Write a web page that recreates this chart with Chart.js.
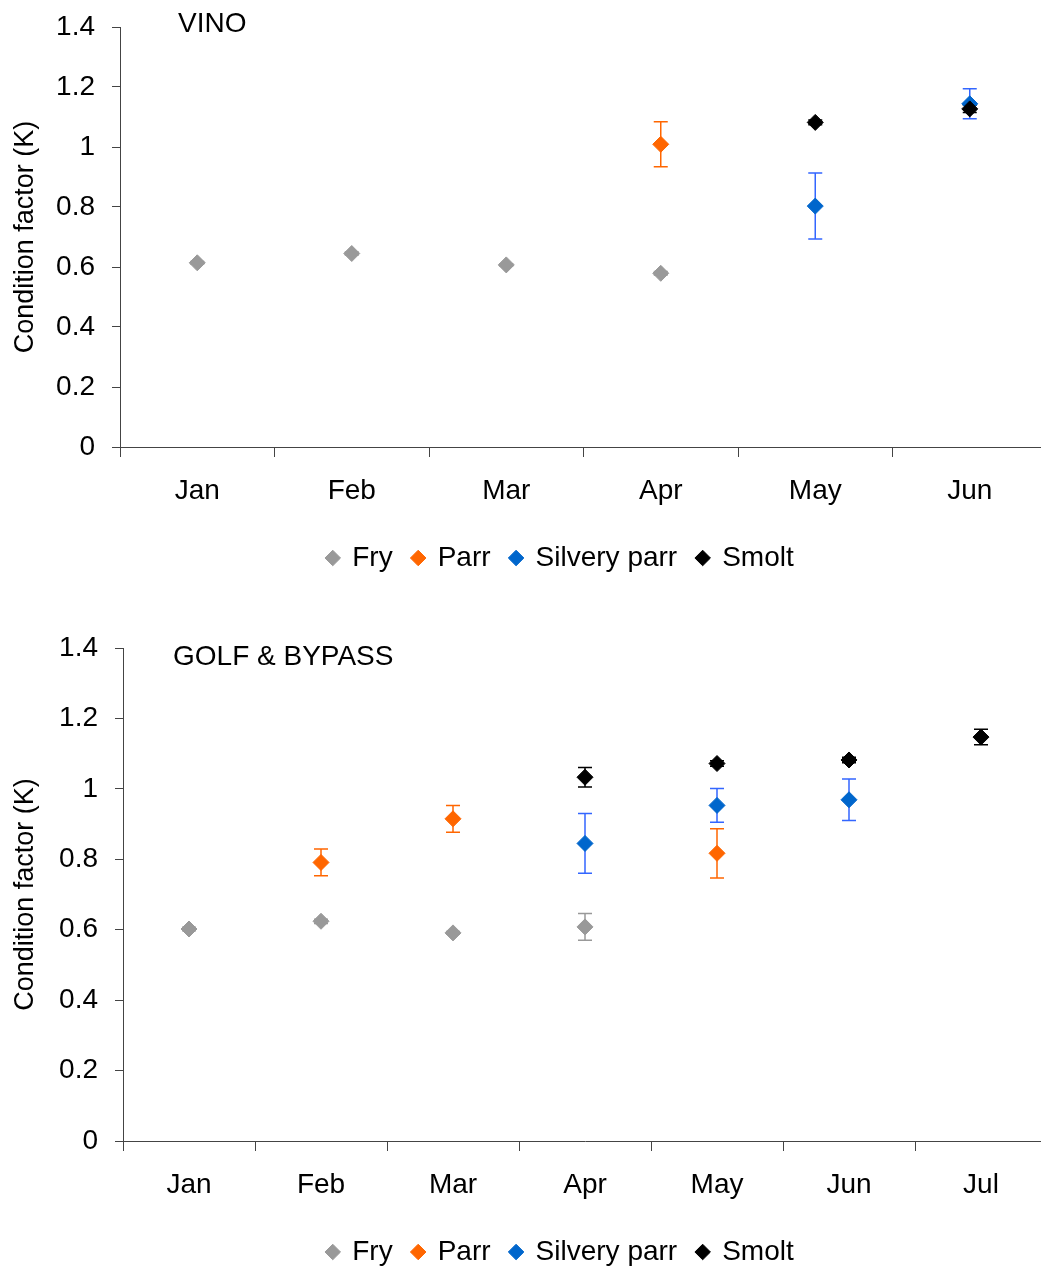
<!DOCTYPE html>
<html><head><meta charset="utf-8">
<script src="https://cdn.jsdelivr.net/npm/chart.js@4.4.1/dist/chart.umd.min.js"></script>
<style>
html,body{margin:0;padding:0;background:#fff;overflow:hidden;width:1041px;height:1270px;position:relative;}
.box{position:absolute;left:0;}
</style></head><body>
<div class="box" style="top:-7px"><canvas id="c1" width="1060" height="589"></canvas></div>
<div class="box" style="top:584px"><canvas id="c2" width="1060" height="692"></canvas></div>
<script>
// ---------- data ----------
const seriesNames = ['Fry', 'Parr', 'Silvery parr', 'Smolt'];
const yTickValues = [0, 0.2, 0.4, 0.6, 0.8, 1, 1.2, 1.4];
const yTickLabels = ['0', '0.2', '0.4', '0.6', '0.8', '1', '1.2', '1.4'];
const yTitle = 'Condition factor (K)';

// VINO
const vinoTitle = 'VINO';
const vinoMonths = ['Jan', 'Feb', 'Mar', 'Apr', 'May', 'Jun'];
const vinoFry = [0.614, 0.645, 0.607, 0.579, null, null];
const vinoFryErr = [0.004, 0.005, 0.004, 0.006, null, null];
const vinoParr = [null, null, null, 1.009, null, null];
const vinoParrErr = [null, null, null, 0.075, null, null];
const vinoSilvery = [null, null, null, null, 0.803, 1.144];
const vinoSilveryErr = [null, null, null, null, 0.11, 0.05];
const vinoSmolt = [null, null, null, null, 1.082, 1.127];
const vinoSmoltErr = [null, null, null, null, 0.008, 0.012];

// GOLF & BYPASS
const golfTitle = 'GOLF & BYPASS';
const golfMonths = ['Jan', 'Feb', 'Mar', 'Apr', 'May', 'Jun', 'Jul'];
const golfFry = [0.602, 0.624, 0.591, 0.608, null, null, null];
const golfFryErr = [0.005, 0.006, 0.004, 0.038, null, null, null];
const golfParr = [null, 0.791, 0.915, null, 0.817, null, null];
const golfParrErr = [null, 0.038, 0.038, null, 0.07, null, null];
const golfSilvery = [null, null, null, 0.845, 0.953, 0.969, null];
const golfSilveryErr = [null, null, null, 0.085, 0.048, 0.059, null];
const golfSmolt = [null, null, null, 1.033, 1.072, 1.082, 1.147];
const golfSmoltErr = [null, null, null, 0.028, 0.008, 0.008, 0.022];

// ---------- styles ----------
const FONT = "'Liberation Sans', Arial, sans-serif";
const markerColors = ['#999999', '#FF6600', '#0066CC', '#000000'];
const errorColors = ['#999999', '#FF6600', '#3366FF', '#000000'];
const axisColor = '#444444';

const errorBarPlugin = {
  id: 'errorBars',
  beforeDatasetsDraw(chart) {
    const ctx = chart.ctx;
    const yScale = chart.scales.y;
    chart.data.datasets.forEach((ds, i) => {
      const meta = chart.getDatasetMeta(i);
      if (!ds.errors) return;
      ctx.save();
      ctx.strokeStyle = ds.errorColor;
      ctx.lineWidth = 1.5;
      ds.data.forEach((v, j) => {
        const e = ds.errors[j];
        if (v == null || e == null) return;
        const x = meta.data[j].x;
        const yt = yScale.getPixelForValue(v + e);
        const yb = yScale.getPixelForValue(v - e);
        ctx.beginPath();
        ctx.moveTo(x, yt); ctx.lineTo(x, yb);
        ctx.moveTo(x - 7, yt); ctx.lineTo(x + 7, yt);
        ctx.moveTo(x - 7, yb); ctx.lineTo(x + 7, yb);
        ctx.stroke();
      });
      ctx.restore();
    });
  }
};

const panelLabelPlugin = {
  id: 'panelLabel',
  afterDraw(chart, args, opts) {
    const ctx = chart.ctx;
    const a = chart.chartArea;
    ctx.save();
    ctx.font = '28px ' + FONT;
    ctx.fillStyle = '#000';
    ctx.textBaseline = 'middle';
    ctx.textAlign = 'left';
    ctx.fillText(opts.text, a.left + opts.dx, a.top + opts.dy);
    ctx.restore();
  }
};

const legendShiftPlugin = {
  id: 'legendShift',
  afterLayout(chart, args, opts) {
    const lg = chart.legend;
    if (lg) { lg.left += opts.shift; lg.right += opts.shift; }
  }
};

function makeDatasets(series, errors) {
  return seriesNames.map((name, k) => ({
    label: name,
    data: series[k],
    errors: errors[k],
    errorColor: errorColors[k],
    showLine: false,
    pointStyle: 'rectRot',
    pointRadius: 8,
    pointHoverRadius: 8,
    pointBackgroundColor: markerColors[k],
    pointBorderColor: markerColors[k],
    pointBorderWidth: 1,
    backgroundColor: markerColors[k],
    borderColor: markerColors[k],
    order: 4 - k
  }));
}

function makeChart(id, months, series, errors, title, yAxisWidth, pad, label) {
  return new Chart(document.getElementById(id), {
    type: 'line',
    data: { labels: months, datasets: makeDatasets(series, errors) },
    options: {
      responsive: false,
      animation: false,
      devicePixelRatio: 1,
      layout: { padding: pad, autoPadding: false },
      scales: {
        x: {
          type: 'category',
          offset: true,
          grid: { offset: true, drawOnChartArea: false, drawTicks: true, tickLength: 10, tickColor: axisColor, tickWidth: 1 },
          border: { display: true, color: axisColor, width: 1 },
          ticks: { color: '#000', font: { family: FONT, size: 28 }, padding: 17, maxRotation: 0, autoSkip: false },
          afterFit: s => { s.height = 77; }
        },
        y: {
          position: 'left',
          min: 0, max: 1.4,
          afterBuildTicks: s => { s.ticks = yTickValues.map(v => ({ value: v })); },
          grid: { drawOnChartArea: false, drawTicks: true, tickLength: 8, tickColor: axisColor, tickWidth: 1 },
          border: { display: true, color: axisColor, width: 1 },
          ticks: { color: '#000', font: { family: FONT, size: 28 }, padding: 17,
                   callback: (v, i) => yTickLabels[i] },
          title: { display: true, text: yTitle, color: '#000', font: { family: FONT, size: 27 }, padding: { top: 9, bottom: 0 } },
          afterFit: s => { s.width = yAxisWidth; }
        }
      },
      plugins: {
        legend: {
          position: 'bottom',
          align: 'center',
          labels: {
            usePointStyle: true, pointStyle: 'rectRot', boxWidth: 11, boxHeight: 11, padding: 20,
            color: '#000', font: { family: FONT, size: 28 },
            sort: (a, b) => a.datasetIndex - b.datasetIndex
          }
        },
        legendShift: { shift: 37 },
        panelLabel: label,
        tooltip: { enabled: false },
        title: { display: false }
      }
    },
    plugins: [errorBarPlugin, panelLabelPlugin, legendShiftPlugin]
  });
}

makeChart('c1', vinoMonths,
  [vinoFry, vinoParr, vinoSilvery, vinoSmolt],
  [vinoFryErr, vinoParrErr, vinoSilveryErr, vinoSmoltErr],
  vinoTitle, 120, { top: 34, left: 0, right: 13, bottom: 0 },
  { text: vinoTitle, dx: 58, dy: -3 });

makeChart('c2', golfMonths,
  [golfFry, golfParr, golfSilvery, golfSmolt],
  [golfFryErr, golfParrErr, golfSilveryErr, golfSmoltErr],
  golfTitle, 123, { top: 64, left: 0, right: 13, bottom: 0 },
  { text: golfTitle, dx: 50, dy: 9 });
</script>
</body></html>
